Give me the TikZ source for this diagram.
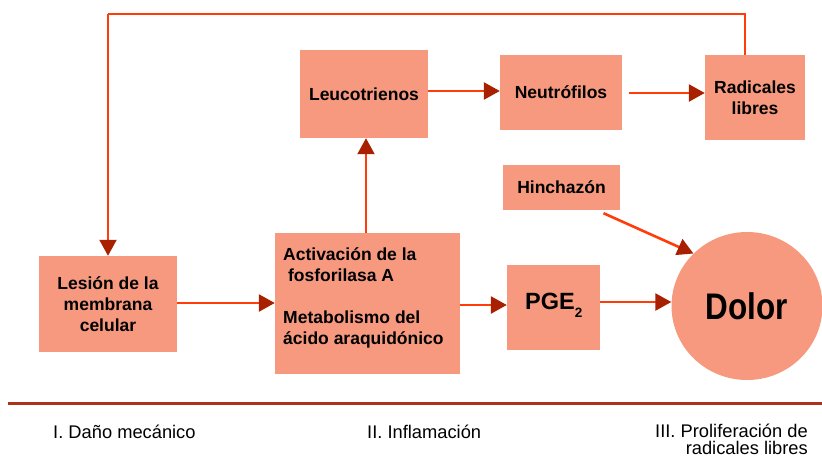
\documentclass[tikz,border=0pt]{standalone}
\usepackage{fontspec}
\setmainfont{Liberation Sans}
\newfontfamily\dolorfont[FakeStretch=0.85]{Liberation Sans}
\usetikzlibrary{arrows.meta,shapes.geometric}
\definecolor{boxfill}{HTML}{F7997F}
\definecolor{linecol}{HTML}{FF3C0A}
\definecolor{headcol}{HTML}{A82000}
\definecolor{rulecol}{HTML}{B03020}
\tikzset{
  box/.style={rectangle, fill=boxfill, inner sep=0pt, align=center,
    font=\fontsize{17.5}{21}\selectfont\bfseries},
  arr/.style={draw=linecol, line width=2.6pt,
    -{Triangle[length=16pt,width=17pt,color=headcol]}},
  thin/.style={draw=linecol, line width=2pt},
  lbl/.style={font=\fontsize{18.3}{19}\selectfont, inner sep=0pt}
}
\begin{document}
\begin{tikzpicture}[x=1pt,y=-1pt]
\useasboundingbox (0,0) rectangle (822,458);
\node[box, minimum width=128pt, minimum height=88pt] (leuc) at (364,94) {Leucotrienos};
\node[box, minimum width=122pt, minimum height=75pt] (neut) at (561,92.5) {Neutrófilos};
\node[box, minimum width=100pt, minimum height=85pt] (rad) at (755,97.5) {Radicales\\libres};
\node[box, minimum width=117pt, minimum height=45pt] (hin) at (561.5,187.5) {Hinchazón};
\node[box, minimum width=138pt, minimum height=96pt] (les) at (108,304) {Lesión de la\\membrana\\celular};
\node[box, minimum width=185pt, minimum height=141pt] (act) at (367.5,303.5) {};
\node[inner sep=0pt, anchor=north west, align=left,
  font=\fontsize{17.5}{21}\selectfont\bfseries] (acttext) at (283,247)
  {Activación de la\\\ fosforilasa A\\[21pt]Metabolismo del\\ácido araquidónico};
\node[box, minimum width=93pt, minimum height=85pt] (pge) at (553.5,307.5) {};
\node[inner sep=0pt, anchor=base west, font=\fontsize{23.5}{26}\selectfont\bfseries]
  (pgetext) at (525,309) {PGE\raisebox{-8pt}{\fontsize{13.5}{15}\selectfont 2}};
\node[ellipse, fill=boxfill, minimum width=151pt, minimum height=148pt, inner sep=0pt,
  font=\dolorfont\fontsize{37}{40}\selectfont\bfseries] (dolor) at (747,306) {Dolor};
\coordinate (topr) at (745,14);
\coordinate (topl) at (108,14);
% connectors
\draw[arr] (leuc.east |- 0,91) -- (neut.west |- 0,91);
\draw[arr, shorten <=7pt] (neut.east |- 0,93) -- (rad.west |- 0,93);
\draw[thin] (rad.north -| topr) -- (topr) -- (topl);
\draw[arr, line width=2pt] (topl) -- (les.north);
\draw[arr, line width=2pt] (act.north -| 366,0) -- (leuc.south -| 366,0);
\draw[arr] (les.east |- 0,303) -- (act.west |- 0,303);
\draw[arr] (act.east |- 0,305) -- (pge.west |- 0,305);
\draw[arr] (pge.east |- 0,302) -- (dolor.west |- 0,302);
\draw[arr] ([xshift=42pt,yshift=-3pt]hin.south) -- (dolor.north west);
% bottom
\draw[rulecol, line width=3pt] (8,403) -- (822,403);
\node[lbl, anchor=base west] (l1) at (53,438) {I. Daño mecánico};
\node[lbl, anchor=base west] (l2) at (367,438) {II. Inflamación};
\node[lbl, anchor=base east] (l3) at (808,437) {III. Proliferación de};
\node[lbl, anchor=base east] (l4) at (808,454) {radicales libres};
\end{tikzpicture}
\end{document}
